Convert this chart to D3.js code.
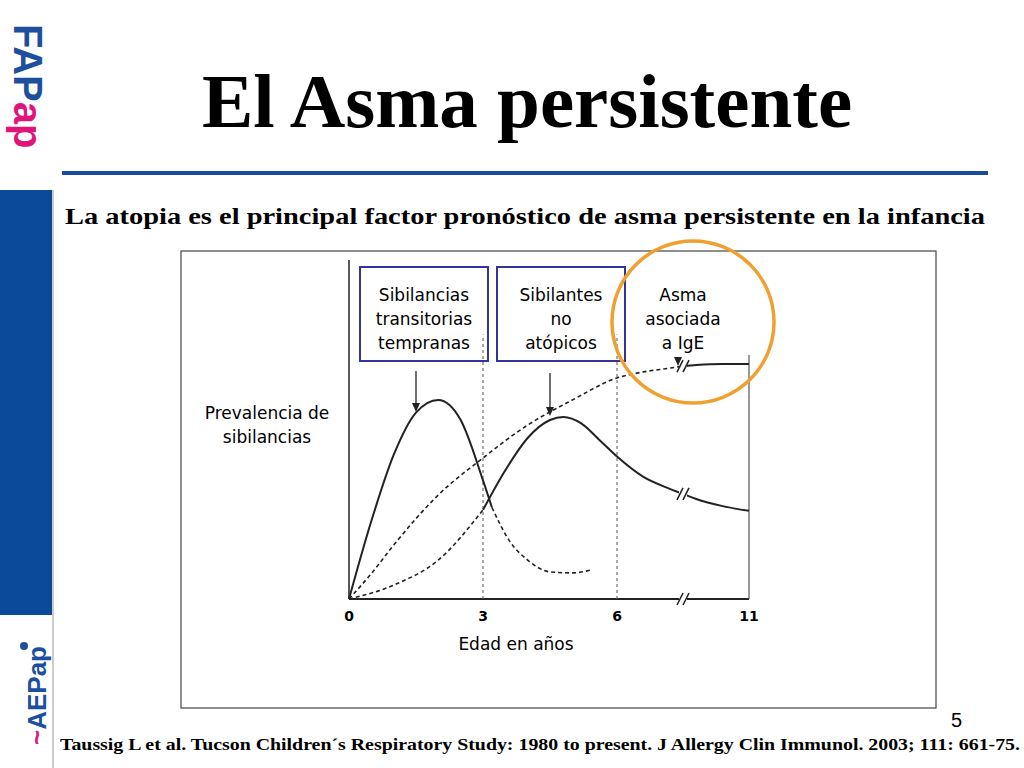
<!DOCTYPE html>
<html><head><meta charset="utf-8">
<script src="https://cdn.jsdelivr.net/npm/d3@7"></script>
<style>body{margin:0;background:#fff}</style>
</head><body><svg id="c" width="1024" height="768"></svg>
<script>
// ages and prevalence values (arbitrary 0-100 units)
var ticks = [0, 3, 6, 11];
var transientAge = [0, 0.5, 1, 1.5, 2, 2.5, 3, 3.2];
var transientVal = [0, 23, 42.5, 55, 58.7, 52.8, 35, 27];
var transientTailAge = [3.2, 3.6, 4, 4.5, 5, 5.4];
var transientTailVal = [27, 17, 11.5, 8, 7.7, 8.5];
var nonAtopicEarlyAge = [0, 1, 2, 3];
var nonAtopicEarlyVal = [0, 4.1, 11.5, 26.3];
var nonAtopicAge = [3, 3.5, 4, 4.5, 4.8, 5.2, 5.6, 6, 7, 8, 8.5, 9, 10, 11];
var nonAtopicVal = [26.3, 38, 47.5, 52.8, 53.7, 51.8, 47, 42, 36, 32.5, 31, 29.5, 27.4, 26];
var igeEarlyAge = [0, 0.5, 1, 2, 3, 4, 5, 6, 7, 8, 8.5];
var igeEarlyVal = [0, 7.5, 15.9, 30.7, 41.6, 51.3, 58.7, 65.2, 67, 68.1, 68.7];
var igeAge = [8.5, 9, 10, 11];
var igeVal = [68.7, 69, 69.3, 69.3];
var breakAge = 8.5;

var svg = d3.select("#c");
var x = d3.scaleLinear().domain(ticks).range([349, 483, 617, 749]);
var y = d3.scaleLinear().domain([0, 100]).range([599, 260]);
var serif = "'Liberation Serif','Times New Roman',serif";
var sans = "'DejaVu Sans',sans-serif";

// sidebar and logos
svg.append("rect").attr("x", 0).attr("y", 190).attr("width", 52).attr("height", 425).attr("fill", "#0b4a9a");
svg.append("line").attr("x1", 53).attr("x2", 53).attr("y1", 190).attr("y2", 768).attr("stroke", "#999");
var fap = svg.append("text").attr("transform", "translate(14,24) rotate(90)")
    .attr("font-family", "'Liberation Sans',Arial,sans-serif").attr("font-weight", "bold").attr("font-size", 40);
fap.append("tspan").attr("fill", "#1c4f9c").text("FAP");
fap.append("tspan").attr("fill", "#e0147a").text("ap");
var aep = svg.append("text").attr("transform", "translate(46,745) rotate(-90)")
    .attr("font-family", "'Liberation Sans',Arial,sans-serif").attr("font-weight", "bold").attr("font-size", 26);
aep.append("tspan").attr("fill", "#e0147a").text("~");
aep.append("tspan").attr("fill", "#1c4f9c").text("AEPap");
svg.append("circle").attr("cx", 24).attr("cy", 646).attr("r", 4).attr("fill", "#1c4f9c");

// titles
svg.append("text").attr("x", 527).attr("y", 127).attr("text-anchor", "middle")
    .attr("font-family", serif).attr("font-weight", "bold").attr("font-size", 77).text("El Asma persistente");
svg.append("line").attr("x1", 62).attr("x2", 988).attr("y1", 173).attr("y2", 173)
    .attr("stroke", "#1a4b9b").attr("stroke-width", 4);
svg.append("text").attr("x", 525).attr("y", 224).attr("text-anchor", "middle")
    .attr("font-family", serif).attr("font-weight", "bold").attr("font-size", 24)
    .attr("textLength", 920).attr("lengthAdjust", "spacingAndGlyphs")
    .text("La atopia es el principal factor pronóstico de asma persistente en la infancia");
svg.append("text").attr("x", 60).attr("y", 750)
    .attr("font-family", serif).attr("font-weight", "bold").attr("font-size", 17)
    .attr("textLength", 960).attr("lengthAdjust", "spacingAndGlyphs")
    .text("Taussig L et al. Tucson Children´s Respiratory Study: 1980 to present. J Allergy Clin Immunol. 2003; 111: 661-75.");
svg.append("text").attr("x", 951).attr("y", 727).attr("font-family", "'Liberation Sans',Arial,sans-serif").attr("font-size", 20).text("5");

// figure frame
svg.append("rect").attr("x", 181).attr("y", 251).attr("width", 755).attr("height", 457)
    .attr("fill", "none").attr("stroke", "#444").attr("stroke-width", 1.2);

var g = svg.append("g");
// axes
g.append("line").attr("x1", x(0)).attr("x2", x(0)).attr("y1", y(0)).attr("y2", y(100)).attr("stroke", "#222").attr("stroke-width", 1.5);
g.append("line").attr("x1", x(0)).attr("x2", x(11)).attr("y1", y(0)).attr("y2", y(0)).attr("stroke", "#222").attr("stroke-width", 1.8);
g.append("line").attr("x1", x(11)).attr("x2", x(11)).attr("y1", y(0)).attr("y2", y(72)).attr("stroke", "#555").attr("stroke-width", 1.2);
[3, 6].forEach(function(t){
    g.append("line").attr("x1", x(t)).attr("x2", x(t)).attr("y1", y(0)).attr("y2", y(78))
        .attr("stroke", "#555").attr("stroke-dasharray", "3,3");
});
g.selectAll(".tick").data(ticks).enter().append("text")
    .attr("x", function(d){ return x(d); }).attr("y", 621).attr("text-anchor", "middle")
    .attr("font-family", sans).attr("font-weight", "bold").attr("font-size", 14).text(function(d){ return d; });

var line = d3.line().x(function(d){ return x(d[0]); }).y(function(d){ return y(d[1]); }).curve(d3.curveMonotoneX);
function series(ages, vals, dashed){
    g.append("path").datum(d3.zip(ages, vals)).attr("d", line).attr("fill", "none")
        .attr("stroke", "#222").attr("stroke-width", dashed ? 1.6 : 2)
        .attr("stroke-dasharray", dashed ? "4,3" : null);
}
series(transientAge, transientVal, false);
series(transientTailAge, transientTailVal, true);
series(nonAtopicEarlyAge, nonAtopicEarlyVal, true);
series(nonAtopicAge, nonAtopicVal, false);
series(igeEarlyAge, igeEarlyVal, true);
series(igeAge, igeVal, false);

// axis break marks
function breakMark(v){
    var bx = x(breakAge), by = y(v);
    g.append("rect").attr("x", bx - 4).attr("y", by - 5).attr("width", 8).attr("height", 10).attr("fill", "#fff");
    [-3, 3].forEach(function(o){
        g.append("line").attr("x1", bx + o - 3).attr("x2", bx + o + 3).attr("y1", by + 6).attr("y2", by - 6)
            .attr("stroke", "#222").attr("stroke-width", 1.5);
    });
}
breakMark(0); breakMark(31); breakMark(68.7);

// labels
var fs = 17;
var boxes = [{x: 360, lines: ["Sibilancias", "transitorias", " tempranas"]},
             {x: 497, lines: ["Sibilantes", "no", "atópicos"]}];
boxes.forEach(function(b){
    g.append("rect").attr("x", b.x).attr("y", 267).attr("width", 128).attr("height", 94)
        .attr("fill", "none").attr("stroke", "#33339a").attr("stroke-width", 2);
    b.lines.forEach(function(l, i){
        g.append("text").attr("x", b.x + 64).attr("y", 301 + i * 24).attr("text-anchor", "middle")
            .attr("font-family", sans).attr("font-size", fs).text(l);
    });
});
["Asma", "asociada", "a IgE"].forEach(function(l, i){
    g.append("text").attr("x", 683).attr("y", 301 + i * 24).attr("text-anchor", "middle")
        .attr("font-family", sans).attr("font-size", fs).text(l);
});
["Prevalencia de", "sibilancias"].forEach(function(l, i){
    g.append("text").attr("x", 267).attr("y", 419 + i * 24).attr("text-anchor", "middle")
        .attr("font-family", sans).attr("font-size", fs).text(l);
});
g.append("text").attr("x", 516).attr("y", 650).attr("text-anchor", "middle")
    .attr("font-family", sans).attr("font-size", fs).text("Edad en años");

// arrows
function arrow(ax, y1, y2){
    g.append("line").attr("x1", ax).attr("x2", ax).attr("y1", y1).attr("y2", y2 - 8).attr("stroke", "#222").attr("stroke-width", 1.3);
    g.append("path").attr("d", "M" + (ax - 4) + "," + (y2 - 9) + "L" + (ax + 4) + "," + (y2 - 9) + "L" + ax + "," + y2 + "Z").attr("fill", "#222");
}
arrow(416, 371, 412);
arrow(550, 373, 416);
arrow(678, 357, 366);

// highlight circle
svg.append("circle").attr("cx", 693).attr("cy", 322).attr("r", 81)
    .attr("fill", "none").attr("stroke", "#f0a030").attr("stroke-width", 3.5);
</script></body></html>
